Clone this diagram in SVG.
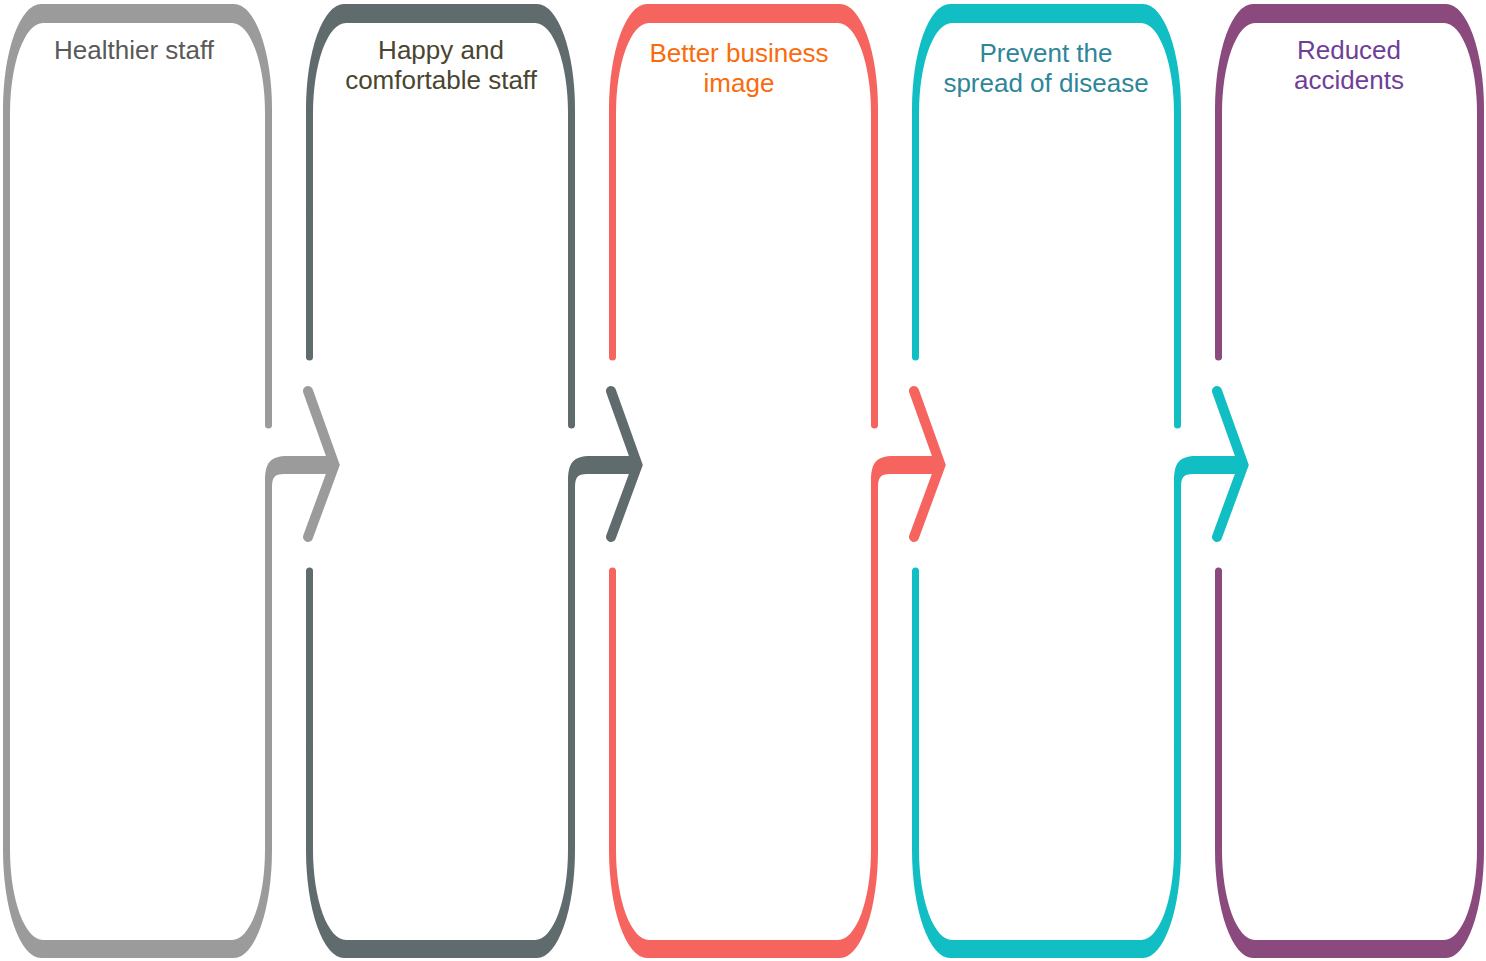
<svg xmlns="http://www.w3.org/2000/svg" width="1486" height="961" viewBox="0 0 1486 961">
<style>
  .cap{fill:currentColor}
  .side{fill:none;stroke:currentColor;stroke-width:7;stroke-linecap:round}
  .bar{fill:currentColor}
  .chev{fill:none;stroke:currentColor;stroke-width:10;stroke-linejoin:miter;stroke-miterlimit:10;stroke-linecap:round}
  text{font-family:"Liberation Sans",Arial,sans-serif;font-size:26px;text-anchor:middle}
</style>
<defs>
  <path id="capTop" d="M0,220 V109 A38 105 0 0 1 38,4 H231 A38 105 0 0 1 269,109 V220 H262 V113 A33 90 0 0 0 229,23 H40 A33 90 0 0 0 7,113 V220 Z"/>
  <path id="capBot" d="M0,740 V850 A38 108 0 0 0 38,958 H231 A38 108 0 0 0 269,850 V740 H262 V850 A33 90 0 0 1 229,940 H40 A33 90 0 0 1 7,850 V740 Z"/>
  <path id="arrowBar" d="M262,505 V482 C262,463 266.5,456 285,456 H330 V474 H281 C271.5,474 269,477 269,488 V505 Z"/>
  <path id="arrowHead" d="M305,391 L331.5,465 L305,537"/>
</defs>
<rect width="1486" height="961" fill="#ffffff"/>

<g id="panel-1" color="#9b9b9b">
  <g transform="translate(3,0)">
    <use href="#capTop" class="cap"/>
    <use href="#capBot" class="cap"/>
    <line class="side" x1="3.5" y1="215" x2="3.5" y2="745"/>
    <line class="side" x1="265.5" y1="215" x2="265.5" y2="425"/>
    <line class="side" x1="265.5" y1="495" x2="265.5" y2="745"/>
  </g>
  <text x="134" y="59" fill="#595959">Healthier staff</text>
</g>

<g id="panel-2" color="#5f6b6d">
  <g transform="translate(306,0)">
    <use href="#capTop" class="cap"/>
    <use href="#capBot" class="cap"/>
    <line class="side" x1="3.5" y1="215" x2="3.5" y2="357"/>
    <line class="side" x1="3.5" y1="571" x2="3.5" y2="745"/>
    <line class="side" x1="265.5" y1="215" x2="265.5" y2="425"/>
    <line class="side" x1="265.5" y1="495" x2="265.5" y2="745"/>
  </g>
  <text x="441" y="59" fill="#4a4530">Happy and</text>
  <text x="441" y="89" fill="#4a4530">comfortable staff</text>
</g>

<g id="panel-3" color="#f5645f">
  <g transform="translate(609,0)">
    <use href="#capTop" class="cap"/>
    <use href="#capBot" class="cap"/>
    <line class="side" x1="3.5" y1="215" x2="3.5" y2="357"/>
    <line class="side" x1="3.5" y1="571" x2="3.5" y2="745"/>
    <line class="side" x1="265.5" y1="215" x2="265.5" y2="425"/>
    <line class="side" x1="265.5" y1="495" x2="265.5" y2="745"/>
  </g>
  <text x="739" y="62" fill="#fa6b0c">Better business</text>
  <text x="739" y="92" fill="#fa6b0c">image</text>
</g>

<g id="panel-4" color="#10bec4">
  <g transform="translate(912,0)">
    <use href="#capTop" class="cap"/>
    <use href="#capBot" class="cap"/>
    <line class="side" x1="3.5" y1="215" x2="3.5" y2="357"/>
    <line class="side" x1="3.5" y1="571" x2="3.5" y2="745"/>
    <line class="side" x1="265.5" y1="215" x2="265.5" y2="425"/>
    <line class="side" x1="265.5" y1="495" x2="265.5" y2="745"/>
  </g>
  <text x="1046" y="62" fill="#2e8699">Prevent the</text>
  <text x="1046" y="92" fill="#2e8699">spread of disease</text>
</g>

<g id="panel-5" color="#8a4a7e">
  <g transform="translate(1215,0)">
    <use href="#capTop" class="cap"/>
    <use href="#capBot" class="cap"/>
    <line class="side" x1="3.5" y1="215" x2="3.5" y2="357"/>
    <line class="side" x1="3.5" y1="571" x2="3.5" y2="745"/>
    <line class="side" x1="265.5" y1="215" x2="265.5" y2="745"/>
  </g>
  <text x="1349" y="59" fill="#6f3f97">Reduced</text>
  <text x="1349" y="89" fill="#6f3f97">accidents</text>
</g>

<g id="connectors">
  <g id="arrow-1-2" transform="translate(3,0)" color="#9b9b9b">
    <use href="#arrowBar" class="bar"/>
    <use href="#arrowHead" class="chev"/>
  </g>
  <g id="arrow-2-3" transform="translate(306,0)" color="#5f6b6d">
    <use href="#arrowBar" class="bar"/>
    <use href="#arrowHead" class="chev"/>
  </g>
  <g id="arrow-3-4" transform="translate(609,0)" color="#f5645f">
    <use href="#arrowBar" class="bar"/>
    <use href="#arrowHead" class="chev"/>
  </g>
  <g id="arrow-4-5" transform="translate(912,0)" color="#10bec4">
    <use href="#arrowBar" class="bar"/>
    <use href="#arrowHead" class="chev"/>
  </g>
</g>
</svg>
